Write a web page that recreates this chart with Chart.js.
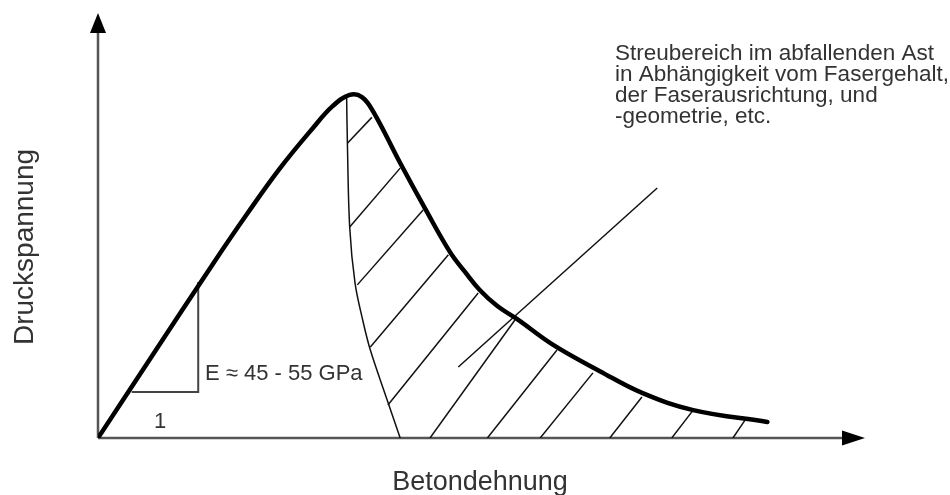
<!DOCTYPE html>
<html>
<head>
<meta charset="utf-8">
<script src="https://cdn.jsdelivr.net/npm/chart.js@4/dist/chart.umd.min.js"></script>
<style>
  body { margin: 0; background: #fff; }
  canvas { display: block; }
</style>
</head>
<body>
<canvas id="chart" width="950" height="495"></canvas>
<script>
// Schematische Arbeitslinie (Dehnung / Spannung in willkuerlichen Einheiten)
const curveX = [0, 0.68, 1.50, 1.95, 2.38, 2.81, 3.07, 3.29, 3.45, 3.60, 3.95, 4.28, 4.60, 4.80, 4.99, 5.22, 5.48, 5.95, 6.56, 7.12, 7.78, 8.75];
const curveY = [0, 1.87, 4.11, 5.30, 6.38, 7.33, 7.85, 8.11, 8.06, 7.71, 6.50, 5.41, 4.40, 3.92, 3.50, 3.12, 2.81, 2.20, 1.58, 1.06, 0.66, 0.38];

// untere Grenze des Streubereichs
const boundX = [3.25, 3.26, 3.29, 3.36, 3.46, 3.56, 3.78, 3.95];
const boundY = [8.06, 6.97, 4.99, 3.66, 2.79, 2.08, 0.90, 0];

// Schraffur (Start- und Endpunkte)
const hatchX1 = [3.26, 3.29, 3.39, 3.56, 3.79, 4.34, 5.09, 5.78, 6.69, 7.50, 8.30];
const hatchY1 = [6.97, 4.99, 3.62, 2.15, 0.78, 0, 0, 0, 0, 0, 0];
const hatchX2 = [3.58, 3.95, 4.25, 4.58, 4.97, 5.45, 6.00, 6.47, 7.11, 7.78, 8.46];
const hatchY2 = [7.58, 6.38, 5.39, 4.33, 3.43, 2.79, 2.08, 1.54, 0.97, 0.66, 0.43];

// Hinweislinie zum Text
const pointerX = [4.71, 7.31];
const pointerY = [1.68, 5.91];

// Steigungsdreieck
const slopeX = [0.44, 1.31, 1.31];
const slopeY = [1.09, 1.09, 3.69];

const noteLines = [
  'Streubereich im abfallenden Ast',
  'in Abhängigkeit vom Fasergehalt,',
  'der Faserausrichtung, und',
  '-geometrie, etc.'
];

function toPoints(xs, ys) {
  return xs.map((x, i) => ({ x: x, y: ys[i] }));
}

const datasets = [];

datasets.push({
  data: toPoints(curveX, curveY),
  borderColor: '#000',
  borderWidth: 4.5,
  tension: 0.4,
  borderCapStyle: 'round'
});

datasets.push({
  data: toPoints(boundX, boundY),
  borderColor: '#111',
  borderWidth: 1.5,
  tension: 0.35
});

for (let i = 0; i < hatchX1.length; i++) {
  datasets.push({
    data: toPoints([hatchX1[i], hatchX2[i]], [hatchY1[i], hatchY2[i]]),
    borderColor: '#111',
    borderWidth: 1.5
  });
}

datasets.push({
  data: toPoints(pointerX, pointerY),
  borderColor: '#111',
  borderWidth: 1.5
});

datasets.push({
  data: toPoints(slopeX, slopeY),
  borderColor: '#444',
  borderWidth: 2
});

// Achsen, Pfeile und Beschriftungen
const decor = {
  id: 'decor',
  beforeDatasetsDraw(chart) {
    const ctx = chart.ctx;
    const a = chart.chartArea;
    const x0 = chart.scales.x.getPixelForValue(0);
    const y0 = chart.scales.y.getPixelForValue(0);
    ctx.save();
    ctx.strokeStyle = '#555';
    ctx.lineWidth = 2.5;
    ctx.beginPath();
    ctx.moveTo(x0, y0);
    ctx.lineTo(x0, a.top + 10);
    ctx.moveTo(x0, y0);
    ctx.lineTo(a.right - 10, y0);
    ctx.stroke();
    ctx.fillStyle = '#000';
    // Pfeil y
    ctx.beginPath();
    ctx.moveTo(x0, a.top - 2);
    ctx.lineTo(x0 - 8, a.top + 18);
    ctx.lineTo(x0 + 8, a.top + 18);
    ctx.closePath();
    ctx.fill();
    // Pfeil x
    ctx.beginPath();
    ctx.moveTo(a.right + 2, y0);
    ctx.lineTo(a.right - 21, y0 - 7.5);
    ctx.lineTo(a.right - 21, y0 + 7.5);
    ctx.closePath();
    ctx.fill();
    ctx.restore();
  },
  afterDatasetsDraw(chart) {
    const ctx = chart.ctx;
    ctx.save();
    ctx.fillStyle = '#333';
    ctx.textBaseline = 'alphabetic';

    ctx.font = '22.5px "Liberation Sans", Arial, sans-serif';
    ctx.textAlign = 'left';
    noteLines.forEach((t, i) => ctx.fillText(t, 615, 60 + i * 21));
    ctx.font = '22px "Liberation Sans", Arial, sans-serif';
    ctx.fillText('E \u2248 45 - 55 GPa', 205, 380);
    ctx.textAlign = 'center';
    ctx.fillText('1', 160, 428);

    ctx.font = '27px "Liberation Sans", Arial, sans-serif';
    ctx.fillText('Betondehnung', 480, 490);
    ctx.font = '28px "Liberation Sans", Arial, sans-serif';
    ctx.translate(33, 247);
    ctx.rotate(-Math.PI / 2);
    ctx.fillText('Druckspannung', 0, 0);
    ctx.restore();
  }
};

new Chart(document.getElementById('chart').getContext('2d'), {
  type: 'scatter',
  data: { datasets: datasets },
  options: {
    responsive: false,
    animation: false,
    showLine: true,
    elements: { point: { radius: 0, hoverRadius: 0 } },
    layout: { padding: { left: 98, right: 87, top: 15, bottom: 57 } },
    scales: {
      x: { type: 'linear', min: 0, max: 10, display: false },
      y: { type: 'linear', min: 0, max: 10, display: false }
    },
    plugins: {
      legend: { display: false },
      tooltip: { enabled: false }
    }
  },
  plugins: [decor]
});
</script>
</body>
</html>
